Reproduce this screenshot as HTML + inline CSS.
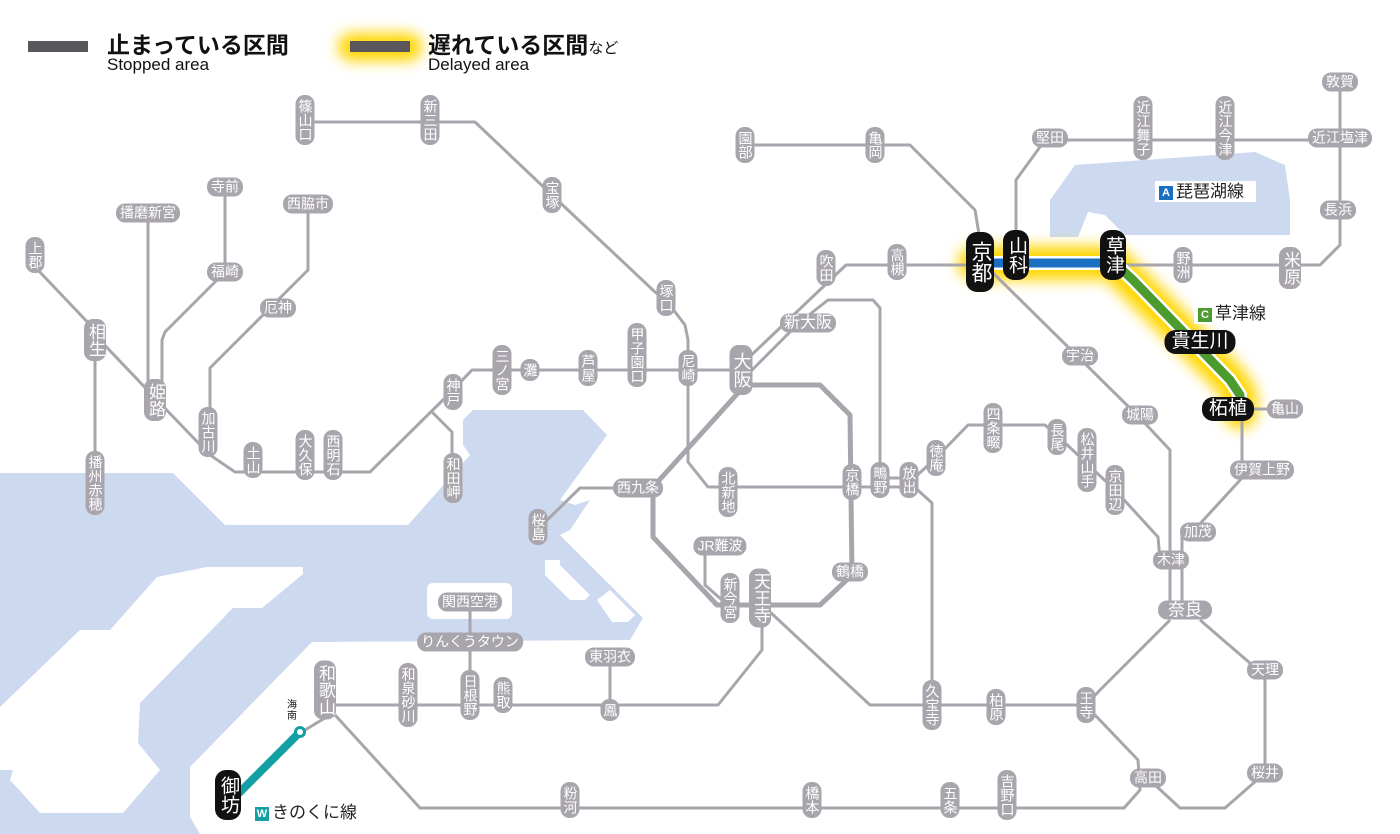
<!DOCTYPE html>
<html><head><meta charset="utf-8"><style>
html,body{margin:0;padding:0;background:#fff;}
#w{position:relative;width:1400px;height:834px;overflow:hidden;font-family:"Liberation Sans","Noto Sans CJK JP",sans-serif;}
svg{position:absolute;left:0;top:0;}
.p{position:absolute;transform:translate(-50%,-50%);background:#a9a5ac;color:#fff;font-size:14px;line-height:15px;border-radius:9px;padding:2px 4px;white-space:nowrap;}
.v{writing-mode:vertical-rl;padding:4px 2px;}
.b{background:#111;font-size:19px;line-height:20px;border-radius:11px;}
.bv{padding:6px 3px;}
.bh{padding:2px 7px;}
.lg{position:absolute;color:#111;}
.lab{position:absolute;background:#fff;font-size:17px;padding:1px 4px;color:#222;line-height:19px;}
.sq{display:inline-block;width:14px;height:14px;color:#fff;font-size:11px;line-height:14px;text-align:center;margin-right:3px;vertical-align:1px;font-weight:bold;}
</style></head><body><div id="w">
<svg width="1400" height="834" viewBox="0 0 1400 834">
<defs><filter id="bl" x="-50%" y="-50%" width="200%" height="200%"><feGaussianBlur stdDeviation="7"/></filter></defs>
<g fill="#cdd9ef">
<polygon points="0,473 173,473 225,525 408,525 470,455 463,445 463,420 473,410 583,410 607,435 560,500 575,505 590,500 570,530 560,535 570,545 643,618 630,640 312,642 190,767 190,817 200,834 0,834"/>
<polygon points="1050,200 1075,165 1255,152 1285,165 1290,200 1290,235 1125,235 1105,215 1088,212 1078,237 1050,237"/>
</g>
<g fill="#fff">
<polygon points="0,707 80,630 110,630 157,577 207,567 303,567 303,574 262,608 233,608 140,703 138,743 160,770 123,813 40,813 10,780 13,770 0,770"/>
<rect x="427" y="583" width="85" height="36" rx="6"/>
<polygon points="545,560 560,560 560,565 570,575 590,595 585,600 570,600 545,575"/>
<polygon points="597,600 610,590 635,615 628,622 612,622"/>
</g>
<rect x="1156" y="181" width="100" height="21" fill="#fff"/>
<g filter="url(#bl)" stroke="#ffd600" fill="none" stroke-linecap="round" stroke-linejoin="round">
<polyline points="975,263 1113,263 1135,285 1230,380 1240,395 1240,412" stroke-width="34"/>
<line x1="352" y1="47" x2="408" y2="47" stroke-width="28"/>
</g>
<g stroke="#a9a5ac" stroke-width="3" fill="none" stroke-linejoin="round">
<polyline points="36,268 95,330 95,483"/>
<polyline points="95,335 155,398 210,455 235,472 370,472 448,395 472,370 745,370"/>
<polyline points="432,412 452,432 452,478"/>
<polyline points="148,213 148,400"/>
<polyline points="225,187 225,272 165,332 162,340 162,400"/>
<polyline points="308,204 308,270 210,368 210,432"/>
<polyline points="305,122 475,122 552,195 655,292 666,300 685,325 688,340 688,462 708,487 910,487"/>
<polyline points="880,478 910,478"/>
<polyline points="741,365 846,265 1300,265"/>
<polyline points="750,372 800,322 828,300 873,300 880,308 880,480"/>
<polyline points="745,145 910,145 975,210 980,240"/>
<polyline points="1016,245 1016,180 1045,140 1340,140"/>
<polyline points="1340,82 1340,245 1320,265 1300,265"/>
<polyline points="990,270 1140,418 1170,450 1170,605"/>
<polyline points="1242,415 1242,478 1197,527 1182,537 1182,605"/>
<polyline points="1170,620 1100,690 1086,705 870,705 770,612"/>
<polyline points="1200,620 1258,670 1265,680 1265,773 1225,808 1180,808 1155,785"/>
<polyline points="1095,715 1138,760 1140,790 1124,808 420,808 335,715"/>
<polyline points="910,483 932,503 932,705"/>
<polyline points="912,480 936,458 968,425 1045,425 1062,440 1115,490 1158,537 1160,560"/>
<polyline points="638,488 580,488 540,527"/>
<polyline points="705,546 705,585 722,600"/>
<polyline points="762,612 762,650 718,705 335,705"/>
<polyline points="470,602 470,705"/>
<polyline points="610,657 610,710"/>
<polyline points="330,715 305,730"/>
<polyline points="1240,409 1300,409"/>
</g>
<g stroke="#a9a5ac" stroke-width="5" fill="none" stroke-linejoin="round">
<polyline points="745,385 820,385 850,415 852,575 820,605 717,605 653,537 653,487 738,393"/>
</g>
<g fill="none" stroke-linejoin="round">
<polyline points="980,263 1113,263" stroke="#fff" stroke-width="14"/>
<polyline points="980,263 1113,263" stroke="#1a6fc0" stroke-width="9"/>
<polyline points="1118,266 1133,280 1230,380 1240,395 1240,409" stroke="#fff" stroke-width="14"/>
<polyline points="1118,266 1133,280 1230,380 1240,395 1240,409" stroke="#4b9b2e" stroke-width="9"/>
<line x1="300" y1="732" x2="232" y2="800" stroke="#12a0a4" stroke-width="8"/>
</g>
<circle cx="300" cy="732" r="4.5" fill="#fff" stroke="#12a0a4" stroke-width="3"/>
<rect x="28" y="41" width="60" height="11" fill="#59575c"/>
<rect x="350" y="41" width="60" height="11" fill="#59575c"/>
</svg>

<div class="lg" style="left:107px;top:26px;font-size:23px;font-weight:bold;">止まっている区間</div>
<div class="lg" style="left:107px;top:55px;font-size:17px;">Stopped area</div>
<div class="lg" style="left:428px;top:26px;font-size:23px;font-weight:bold;">遅れている区間<span style="font-size:15px;font-weight:normal">など</span></div>
<div class="lg" style="left:428px;top:55px;font-size:17px;">Delayed area</div>

<div class="lab" style="left:1155px;top:181px;"><span class="sq" style="background:#1a6fc0">A</span>琵琶湖線</div>
<div class="lab" style="left:1194px;top:303px;"><span class="sq" style="background:#4b9b2e">C</span>草津線</div>
<div class="lab" style="left:251px;top:802px;"><span class="sq" style="background:#12a0a4">W</span>きのくに線</div>
<div style="position:absolute;left:287px;top:700px;font-size:10px;line-height:11px;width:11px;color:#111;">海南</div>

<div class="p v" style="left:305px;top:120px">篠山口</div>
<div class="p v" style="left:430px;top:120px">新三田</div>
<div class="p v" style="left:552px;top:195px">宝塚</div>
<div class="p v" style="left:666px;top:298px">塚口</div>
<div class="p v" style="left:637px;top:355px">甲子園口</div>
<div class="p v" style="left:688px;top:368px">尼崎</div>
<div class="p v" style="left:588px;top:368px">芦屋</div>
<div class="p v" style="left:530px;top:370px">灘</div>
<div class="p v" style="left:502px;top:370px">三ノ宮</div>
<div class="p v" style="left:453px;top:392px">神戸</div>
<div class="p v" style="left:453px;top:478px">和田岬</div>
<div class="p v" style="left:333px;top:455px">西明石</div>
<div class="p v" style="left:305px;top:455px">大久保</div>
<div class="p v" style="left:253px;top:460px">土山</div>
<div class="p v" style="left:208px;top:432px">加古川</div>
<div class="p v" style="left:155px;top:400px;font-size:17px;line-height:18px">姫路</div>
<div class="p v" style="left:95px;top:340px;font-size:17px;line-height:18px">相生</div>
<div class="p v" style="left:35px;top:255px">上郡</div>
<div class="p v" style="left:95px;top:483px">播州赤穂</div>
<div class="p v" style="left:728px;top:492px">北新地</div>
<div class="p v" style="left:852px;top:482px">京橋</div>
<div class="p v" style="left:880px;top:480px">鴫野</div>
<div class="p v" style="left:909px;top:480px">放出</div>
<div class="p v" style="left:936px;top:458px">徳庵</div>
<div class="p v" style="left:993px;top:428px">四条畷</div>
<div class="p v" style="left:1057px;top:437px">長尾</div>
<div class="p v" style="left:1087px;top:460px">松井山手</div>
<div class="p v" style="left:1115px;top:490px">京田辺</div>
<div class="p v" style="left:932px;top:705px">久宝寺</div>
<div class="p v" style="left:996px;top:707px">柏原</div>
<div class="p v" style="left:1086px;top:705px">王寺</div>
<div class="p v" style="left:1007px;top:795px">吉野口</div>
<div class="p v" style="left:950px;top:800px">五条</div>
<div class="p v" style="left:812px;top:800px">橋本</div>
<div class="p v" style="left:570px;top:800px">粉河</div>
<div class="p v" style="left:610px;top:710px">鳳</div>
<div class="p v" style="left:503px;top:695px">熊取</div>
<div class="p v" style="left:470px;top:695px">日根野</div>
<div class="p v" style="left:408px;top:695px">和泉砂川</div>
<div class="p v" style="left:325px;top:690px;font-size:17px;line-height:18px">和歌山</div>
<div class="p v" style="left:730px;top:598px">新今宮</div>
<div class="p v" style="left:760px;top:598px;font-size:17px;line-height:18px">天王寺</div>
<div class="p v" style="left:538px;top:527px">桜島</div>
<div class="p v" style="left:826px;top:268px">吹田</div>
<div class="p v" style="left:897px;top:262px">高槻</div>
<div class="p v" style="left:745px;top:145px">園部</div>
<div class="p v" style="left:875px;top:145px">亀岡</div>
<div class="p v" style="left:1143px;top:128px">近江舞子</div>
<div class="p v" style="left:1225px;top:128px">近江今津</div>
<div class="p v" style="left:1183px;top:265px">野洲</div>
<div class="p v" style="left:1290px;top:268px;font-size:17px;line-height:18px">米原</div>
<div class="p v" style="left:741px;top:370px;font-size:18px;line-height:19px;padding:7px 2px">大阪</div>
<div class="p v b bv" style="left:980px;top:262px;font-size:21px;line-height:22px;padding:9px 3px">京都</div>
<div class="p v b bv" style="left:1016px;top:255px">山科</div>
<div class="p v b bv" style="left:1113px;top:255px">草津</div>
<div class="p v b bv" style="left:228px;top:795px">御坊</div>
<div class="p" style="left:148px;top:213px">播磨新宮</div>
<div class="p" style="left:225px;top:187px">寺前</div>
<div class="p" style="left:225px;top:272px">福崎</div>
<div class="p" style="left:308px;top:204px">西脇市</div>
<div class="p" style="left:278px;top:308px">厄神</div>
<div class="p" style="left:808px;top:323px;font-size:16px">新大阪</div>
<div class="p" style="left:638px;top:488px">西九条</div>
<div class="p" style="left:720px;top:546px">JR難波</div>
<div class="p" style="left:850px;top:572px">鶴橋</div>
<div class="p" style="left:470px;top:602px">関西空港</div>
<div class="p" style="left:470px;top:642px">りんくうタウン</div>
<div class="p" style="left:610px;top:657px">東羽衣</div>
<div class="p" style="left:1080px;top:356px">宇治</div>
<div class="p" style="left:1140px;top:415px">城陽</div>
<div class="p" style="left:1171px;top:560px">木津</div>
<div class="p" style="left:1198px;top:532px">加茂</div>
<div class="p" style="left:1185px;top:610px;font-size:17px;padding:2px 10px">奈良</div>
<div class="p" style="left:1265px;top:670px">天理</div>
<div class="p" style="left:1265px;top:773px">桜井</div>
<div class="p" style="left:1148px;top:778px">高田</div>
<div class="p" style="left:1262px;top:470px">伊賀上野</div>
<div class="p" style="left:1285px;top:409px">亀山</div>
<div class="p" style="left:1338px;top:210px">長浜</div>
<div class="p" style="left:1340px;top:138px">近江塩津</div>
<div class="p" style="left:1340px;top:82px">敦賀</div>
<div class="p" style="left:1050px;top:138px">堅田</div>
<div class="p b bh" style="left:1200px;top:342px">貴生川</div>
<div class="p b bh" style="left:1228px;top:409px">柘植</div>
</div></body></html>
